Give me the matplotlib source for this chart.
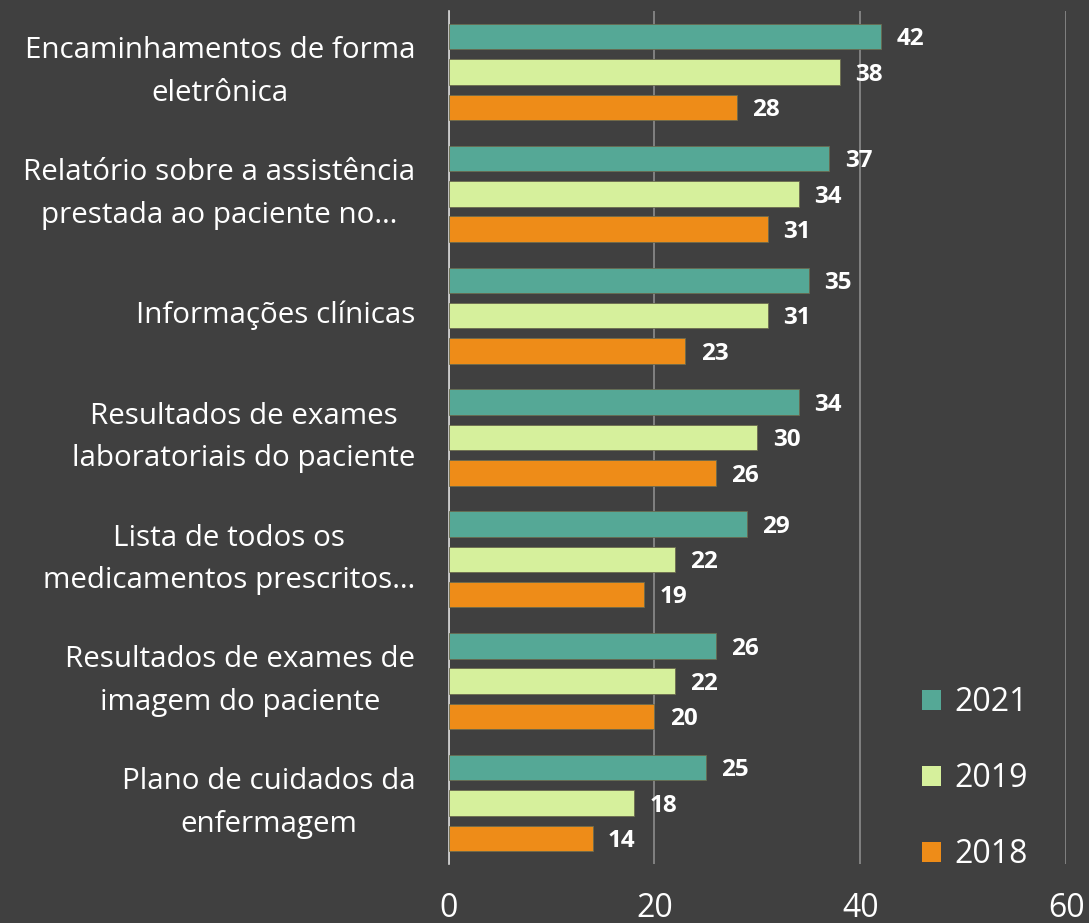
import matplotlib.pyplot as plt
import numpy as np

plt.rcParams['font.family'] = ['Open Sans', 'DejaVu Sans']

# Dados
categorias = [
    'Encaminhamentos de forma\neletrônica',
    'Relatório sobre a assistência\nprestada ao paciente no…',
    'Informações clínicas',
    'Resultados de exames\nlaboratoriais do paciente',
    'Lista de todos os\nmedicamentos prescritos…',
    'Resultados de exames de\nimagem do paciente',
    'Plano de cuidados da\nenfermagem',
]
v2021 = [42, 37, 35, 34, 29, 26, 25]
v2019 = [38, 34, 31, 30, 22, 22, 18]
v2018 = [28, 31, 23, 26, 19, 20, 14]
anos = ['2021', '2019', '2018']
cores = ['#55A896', '#D6F09C', '#EE8C18']

fundo = '#404040'

fig = plt.figure(figsize=(10.89, 9.23), dpi=100, facecolor=fundo)
ax = fig.add_axes([0.412, 0.064, 0.567, 0.924], facecolor=fundo)

y = np.arange(len(categorias))
desl = 0.29
alt = 0.21
series = [v2021, v2019, v2018]
for i, (vals, cor, ano) in enumerate(zip(series, cores, anos)):
    pos = y + (i - 1) * desl
    barras = ax.barh(pos, vals, height=alt, color=cor, edgecolor='#6b6b50',
                     linewidth=0.6, label=ano, zorder=3)
    for b, v in zip(barras, vals):
        ax.annotate(str(v), (v, b.get_y() + b.get_height() / 2),
                    xytext=(11, -2), textcoords='offset points',
                    ha='left', va='center', color='white',
                    fontsize=17.5, fontweight='bold', zorder=4)

ax.set_ylim(len(categorias) - 0.5, -0.5)
ax.set_xlim(0, 60)
ax.set_xticks([0, 20, 40, 60])
ax.set_yticks(y)
ax.set_yticklabels(categorias, ha='right', va='center',
                   multialignment='center', linespacing=1.62)
ax.tick_params(axis='y', length=0, pad=24, labelsize=21.3, labelcolor='white')
ax.tick_params(axis='x', length=0, pad=20, labelsize=23, labelcolor='white')

ax.grid(axis='x', color='#8c8c8c', linewidth=1.2, zorder=0)
for s in ['top', 'right', 'bottom']:
    ax.spines[s].set_visible(False)
ax.spines['left'].set_color('#d9d9d9')
ax.spines['left'].set_linewidth(1.2)

leg = ax.legend(loc='lower right', bbox_to_anchor=(0.984, -0.042),
                frameon=False, fontsize=23, labelcolor='white',
                handlelength=0.6, handleheight=0.6, handletextpad=0.4,
                labelspacing=1.34)
for h in leg.legend_handles:
    h.set_edgecolor('none')

fig.savefig('out.png', dpi=100, facecolor=fundo)
